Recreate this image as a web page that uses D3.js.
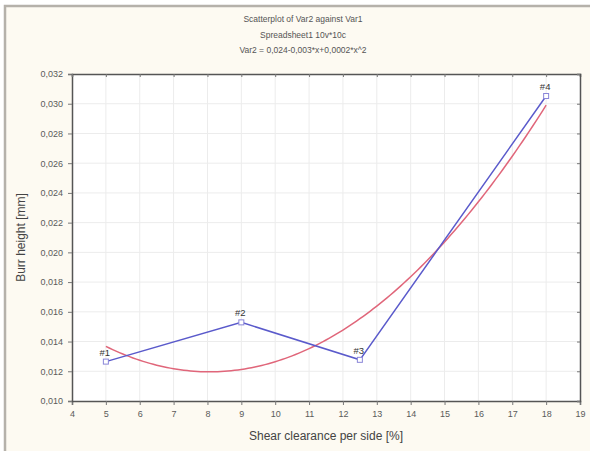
<!DOCTYPE html>
<html>
<head>
<meta charset="utf-8">
<script src="https://cdn.jsdelivr.net/npm/d3@7"></script>
<style>
  body { margin: 0; background: #ffffff; }
  text { font-family: Arial, "Liberation Sans", sans-serif; }
</style>
</head>
<body>
<div id="graph"></div>
<script>
// data
const shearClearance = [5, 9, 12.5, 18];
const burrHeight = [0.01265, 0.01529, 0.01277, 0.03052];
const pointLabels = ['#1', '#2', '#3', '#4'];
const xTicks = [4, 5, 6, 7, 8, 9, 10, 11, 12, 13, 14, 15, 16, 17, 18, 19];
const yTicks = [0.010, 0.012, 0.014, 0.016, 0.018, 0.020, 0.022, 0.024, 0.026, 0.028, 0.030, 0.032];
const titleLines = ['Scatterplot of Var2 against Var1', 'Spreadsheet1 10v*10c', 'Var2 = 0,024-0,003*x+0,0002*x^2'];

const w = 590;
const h = 451;
const plotLeft = 72, plotRight = 580, plotTop = 74, plotBottom = 401;

const svg = d3.select('#graph')
      .append('svg')
      .attr('width', w)
      .attr('height', h);

// window background and frame
svg.append('rect').attr('x', 0).attr('y', 0).attr('width', w).attr('height', h).style('fill', '#ffffff');
svg.append('rect')
      .attr('x', 5).attr('y', 6).attr('width', w).attr('height', h)
      .style('fill', '#fdfaf2')
      .style('stroke', '#b5b1aa')
      .style('stroke-width', 2.5);

const x = d3.scaleLinear().domain([4, 19]).range([plotLeft, plotRight]);
const y = d3.scaleLinear().domain([0.010, 0.032]).range([plotBottom, plotTop]);

// plot area
svg.append('rect')
      .attr('x', plotLeft).attr('y', plotTop)
      .attr('width', plotRight - plotLeft).attr('height', plotBottom - plotTop)
      .style('fill', '#ffffff');

// grid
svg.append('g')
      .selectAll('line')
      .data(xTicks.slice(1, -1))
      .enter()
      .append('line')
      .attr('x1', (d) => x(d)).attr('x2', (d) => x(d))
      .attr('y1', plotTop).attr('y2', plotBottom)
      .style('stroke', '#ececec')
      .style('stroke-width', 1);
svg.append('g')
      .selectAll('line')
      .data(yTicks.slice(1, -1))
      .enter()
      .append('line')
      .attr('x1', plotLeft).attr('x2', plotRight)
      .attr('y1', (d) => y(d)).attr('y2', (d) => y(d))
      .style('stroke', '#ececec')
      .style('stroke-width', 1);

// axes
const fmt = (d) => d3.format('.3f')(d).replace('.', ',');
const xAxis = svg.append('g')
      .attr('transform', `translate(0,${plotBottom})`)
      .call(d3.axisBottom(x).tickValues(xTicks).tickSize(4).tickPadding(6));
const yAxis = svg.append('g')
      .attr('transform', `translate(${plotLeft},0)`)
      .call(d3.axisLeft(y).tickValues(yTicks).tickFormat(fmt).tickSize(4).tickPadding(5));
const xTop = svg.append('g')
      .attr('transform', `translate(0,${plotTop})`)
      .call(d3.axisTop(x).tickValues(xTicks).tickSize(-3).tickFormat(''));
const yRight = svg.append('g')
      .attr('transform', `translate(${plotRight},0)`)
      .call(d3.axisRight(y).tickValues(yTicks).tickSize(-3).tickFormat(''));

[xAxis, yAxis, xTop, yRight].forEach((g) => {
  g.select('.domain').style('stroke', '#555').style('stroke-width', 1.5);
  g.selectAll('.tick line').style('stroke', '#777');
  g.selectAll('.tick text').style('fill', '#5a5a5a').style('font-size', '9px');
});

// quadratic least squares fit from the data
function quadFit (xs, ys) {
  let S = [0, 0, 0, 0, 0], T = [0, 0, 0];
  for (let i = 0; i < xs.length; i++) {
    for (let k = 0; k < 5; k++) S[k] += Math.pow(xs[i], k);
    for (let k = 0; k < 3; k++) T[k] += ys[i] * Math.pow(xs[i], k);
  }
  const M = [[S[0], S[1], S[2], T[0]], [S[1], S[2], S[3], T[1]], [S[2], S[3], S[4], T[2]]];
  for (let i = 0; i < 3; i++) {
    for (let j = i + 1; j < 3; j++) {
      const f = M[j][i] / M[i][i];
      for (let k = i; k < 4; k++) M[j][k] -= f * M[i][k];
    }
  }
  const c = [0, 0, 0];
  for (let i = 2; i >= 0; i--) {
    let s = M[i][3];
    for (let k = i + 1; k < 3; k++) s -= M[i][k] * c[k];
    c[i] = s / M[i][i];
  }
  return c;
}
const coef = quadFit(shearClearance, burrHeight);
const fitPts = d3.range(0, 131).map((i) => {
  const xv = shearClearance[0] + (shearClearance[shearClearance.length - 1] - shearClearance[0]) * i / 130;
  return [xv, coef[0] + coef[1] * xv + coef[2] * xv * xv];
});

svg.append('path')
      .datum(fitPts)
      .attr('d', d3.line().x((d) => x(d[0])).y((d) => y(d[1])))
      .style('fill', 'none')
      .style('stroke', '#e0667a')
      .style('stroke-width', 1.5);

const pts = shearClearance.map((d, i) => ({x: d, y: burrHeight[i], label: pointLabels[i]}));

svg.append('path')
      .datum(pts)
      .attr('d', d3.line().x((d) => x(d.x)).y((d) => y(d.y)))
      .style('fill', 'none')
      .style('stroke', '#5a5acb')
      .style('stroke-width', 1.5);

svg.selectAll('.marker')
      .data(pts)
      .enter()
      .append('rect')
      .attr('class', 'marker')
      .attr('x', (d) => x(d.x) - 2.5)
      .attr('y', (d) => y(d.y) - 2.5)
      .attr('width', 5).attr('height', 5)
      .style('fill', '#ffffff')
      .style('stroke', '#8a86d8')
      .style('stroke-width', 1);

svg.selectAll('.plabel')
      .data(pts)
      .enter()
      .append('text')
      .attr('class', 'plabel')
      .attr('x', (d) => x(d.x) - 1)
      .attr('y', (d) => y(d.y) - 6)
      .attr('text-anchor', 'middle')
      .style('font-size', '9.5px')
      .style('fill', '#333')
      .text((d) => d.label);

// titles
svg.selectAll('.title')
      .data(titleLines)
      .enter()
      .append('text')
      .attr('class', 'title')
      .attr('x', 303)
      .attr('y', (d, i) => 22 + i * 15.5)
      .attr('text-anchor', 'middle')
      .style('font-size', '8.5px')
      .style('fill', '#555')
      .text((d) => d);

svg.append('text')
      .attr('x', (plotLeft + plotRight) / 2)
      .attr('y', 440)
      .attr('text-anchor', 'middle')
      .style('font-size', '12px')
      .style('fill', '#444')
      .text('Shear clearance per side [%]');

svg.append('text')
      .attr('transform', `translate(25,${(plotTop + plotBottom) / 2}) rotate(-90)`)
      .attr('text-anchor', 'middle')
      .style('font-size', '12px')
      .style('fill', '#444')
      .text('Burr height [mm]');
</script>
</body>
</html>
